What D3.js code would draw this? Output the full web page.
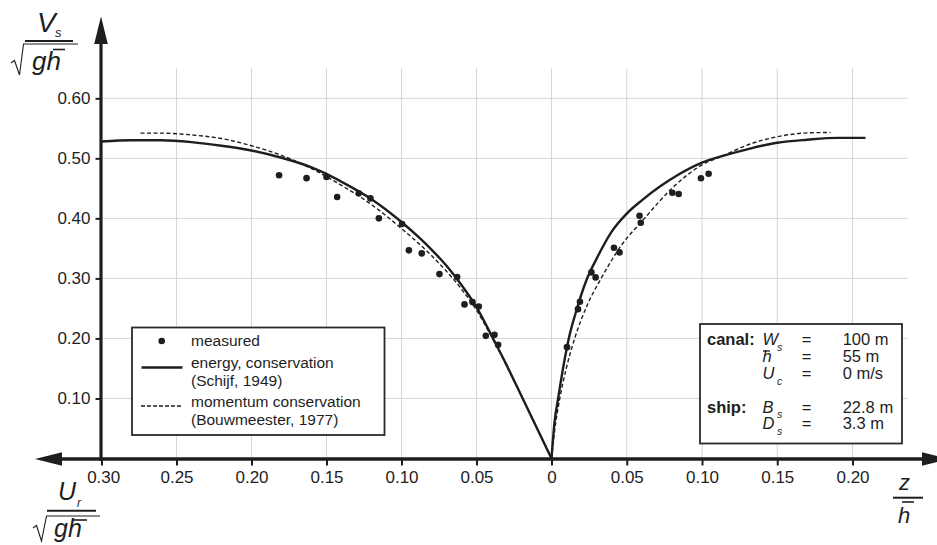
<!DOCTYPE html>
<html>
<head>
<meta charset="utf-8">
<script src="https://cdn.jsdelivr.net/npm/d3@7"></script>
<style>
  html, body { margin: 0; padding: 0; background: #fff; }
  svg { display: block; font-family: "Liberation Sans", Arial, Helvetica, sans-serif; }
</style>
</head>
<body>
<svg id="chart" width="937" height="545"></svg>
<script>
// ---------------- data ----------------
// left half: U_r / sqrt(g h)  (plotted to the left of 0), right half: z / h
const xTickValues = [-0.30, -0.25, -0.20, -0.15, -0.10, -0.05, 0, 0.05, 0.10, 0.15, 0.20];
const yTickValues = [0.10, 0.20, 0.30, 0.40, 0.50, 0.60];

// measured, left (Ur/sqrt(gh), Vs/sqrt(gh))
const measuredLeftUr = [0.1816, 0.1633, 0.150, 0.1429, 0.1285, 0.1207, 0.1151, 0.0996, 0.0951, 0.0865, 0.0747, 0.0629, 0.0580, 0.0527, 0.0485, 0.0438, 0.0380, 0.0356];
const measuredLeftV  = [0.4717, 0.467, 0.469, 0.4355, 0.4417, 0.4333, 0.400, 0.3905, 0.3467, 0.3417, 0.3072, 0.3022, 0.2567, 0.2605, 0.2533, 0.2043, 0.206, 0.1893];
// measured, right (z/h, Vs/sqrt(gh))
const measuredRightZ = [0.0103, 0.0176, 0.0189, 0.0265, 0.0293, 0.0415, 0.0452, 0.0585, 0.0593, 0.0803, 0.0845, 0.0993, 0.1044];
const measuredRightV = [0.1855, 0.2488, 0.261, 0.310, 0.3017, 0.351, 0.3433, 0.4043, 0.3927, 0.4427, 0.4405, 0.4667, 0.4743];

// energy conservation (Schijf, 1949)
const energyLeftUr = [0, 0.01, 0.02, 0.03, 0.04, 0.05, 0.06, 0.07, 0.08, 0.0878, 0.10, 0.12, 0.14, 0.15, 0.16, 0.18, 0.20, 0.22, 0.24, 0.26, 0.28, 0.30];
const energyLeftV  = [0, 0.052, 0.104, 0.156, 0.205, 0.252, 0.289, 0.321, 0.348, 0.367, 0.394, 0.432, 0.461, 0.474, 0.485, 0.501, 0.513, 0.521, 0.527, 0.530, 0.530, 0.528];
const energyRightZ = [0, 0.002, 0.0044, 0.008, 0.0115, 0.016, 0.0232, 0.03, 0.04, 0.05, 0.06, 0.072, 0.085, 0.10, 0.115, 0.13, 0.15, 0.17, 0.19, 0.2086];
const energyRightV = [0, 0.06, 0.10, 0.155, 0.20, 0.242, 0.297, 0.333, 0.378, 0.408, 0.430, 0.453, 0.474, 0.493, 0.505, 0.515, 0.526, 0.531, 0.534, 0.534];

// momentum conservation (Bouwmeester, 1977)
const momentumLeftUr = [0, 0.01, 0.02, 0.03, 0.04, 0.05, 0.06, 0.08, 0.10, 0.12, 0.14, 0.16, 0.18, 0.20, 0.22, 0.24, 0.26, 0.274];
const momentumLeftV  = [0, 0.052, 0.104, 0.155, 0.203, 0.247, 0.282, 0.338, 0.383, 0.423, 0.455, 0.483, 0.505, 0.521, 0.533, 0.539, 0.542, 0.542];
const momentumRightZ = [0, 0.002, 0.0055, 0.010, 0.0154, 0.024, 0.033, 0.045, 0.0618, 0.080, 0.100, 0.1137, 0.13, 0.15, 0.1733, 0.1854];
const momentumRightV = [0, 0.045, 0.10, 0.152, 0.20, 0.257, 0.300, 0.350, 0.400, 0.450, 0.489, 0.504, 0.522, 0.536, 0.5427, 0.543];

// legend text
const legendLeftItems = ["measured", ["energy, conservation", "(Schijf, 1949)"], ["momentum conservation", "(Bouwmeester, 1977)"]];
const canalSymbols = [["W", "s"], ["h", ""], ["U", "c"]];
const canalValues = ["100 m", "55 m", "0 m/s"];
const shipSymbols = [["B", "s"], ["D", "s"]];
const shipValues = ["22.8 m", "3.3 m"];

// ---------------- drawing ----------------
const svg = d3.select("#chart");
const ink = "#1e1e1e";
const gridCol = "#d6d6d6";

const x = d3.scaleLinear().domain([-0.30, 0, 0.20]).range([101.5, 551.5, 852.5]);
const y = d3.scaleLinear().domain([0, 0.60]).range([458.5, 98.3]);

// grid
const grid = svg.append("g");
grid.selectAll("line.v").data(xTickValues).join("line")
  .attr("x1", d => x(d)).attr("x2", d => x(d))
  .attr("y1", y(0.65)).attr("y2", y(0))
  .attr("stroke", gridCol).attr("stroke-width", 1);
grid.selectAll("line.h").data(yTickValues).join("line")
  .attr("x1", x(-0.30)).attr("x2", 908)
  .attr("y1", d => y(d)).attr("y2", d => y(d))
  .attr("stroke", gridCol).attr("stroke-width", 1);

// axes (ticks + labels)
const fmtX = d => d === 0 ? "0" : d3.format(".2f")(Math.abs(d));
const xAxis = svg.append("g").attr("transform", `translate(0,${y(0)})`)
  .call(d3.axisBottom(x).tickValues(xTickValues).tickFormat(fmtX).tickSize(7).tickPadding(5));
const yAxis = svg.append("g").attr("transform", `translate(${x(-0.30)},0)`)
  .call(d3.axisLeft(y).tickValues(yTickValues).tickFormat(d3.format(".2f")).tickSize(6).tickPadding(5));
[xAxis, yAxis].forEach(g => {
  g.select(".domain").remove();
  g.selectAll(".tick line").attr("stroke", ink).attr("stroke-width", 2);
  g.selectAll(".tick text").attr("fill", ink).style("font-size", "17px")
    .style("font-family", "'Liberation Sans', Arial, sans-serif");
});
xAxis.selectAll(".tick").filter(d => d === -0.30).select("text").attr("dx", "0.1em");

// curves
const lineGen = d3.line().x(d => x(d[0])).y(d => y(d[1])).curve(d3.curveMonotoneX);
const leftPts = (us, vs) => us.map((u, i) => [-u, vs[i]]).sort((a, b) => a[0] - b[0]);
const rightPts = (zs, vs) => zs.map((z, i) => [z, vs[i]]);

const curves = svg.append("g").attr("fill", "none").attr("stroke", ink);
curves.append("path").attr("d", lineGen(leftPts(energyLeftUr, energyLeftV))).attr("stroke-width", 2.4);
curves.append("path").attr("d", lineGen(rightPts(energyRightZ, energyRightV))).attr("stroke-width", 2.4);
curves.append("path").attr("d", lineGen(leftPts(momentumLeftUr, momentumLeftV))).attr("stroke-width", 1.4).attr("stroke-dasharray", "4,2.5");
curves.append("path").attr("d", lineGen(rightPts(momentumRightZ, momentumRightV))).attr("stroke-width", 1.4).attr("stroke-dasharray", "4,2.5");

// measured points
const pts = svg.append("g").attr("fill", ink);
pts.selectAll("circle.l").data(measuredLeftUr.map((u, i) => [-u, measuredLeftV[i]])).join("circle")
  .attr("cx", d => x(d[0])).attr("cy", d => y(d[1])).attr("r", 3.3);
pts.selectAll("circle.r").data(measuredRightZ.map((z, i) => [z, measuredRightV[i]])).join("circle")
  .attr("cx", d => x(d[0])).attr("cy", d => y(d[1])).attr("r", 3.3);

// axis lines with arrows
const axes = svg.append("g");
axes.append("line").attr("x1", 58).attr("x2", 925).attr("y1", 459).attr("y2", 459)
  .attr("stroke", ink).attr("stroke-width", 3.6);
axes.append("line").attr("x1", 101).attr("x2", 101).attr("y1", 461).attr("y2", 40)
  .attr("stroke", ink).attr("stroke-width", 3.2);
axes.append("path").attr("d", "M35,459 L62,452.3 L62,465.7 Z").attr("fill", ink);
axes.append("path").attr("d", "M949,459 L922,452.3 L922,465.7 Z").attr("fill", ink);
axes.append("path").attr("d", "M101,16.5 L94.2,44 L107.8,44 Z").attr("fill", ink);

// axis titles
const t = svg.append("g").attr("fill", ink).style("font-style", "italic");
// Vs / sqrt(g h)
t.append("text").attr("x", 37).attr("y", 32).style("font-size", "28px").text("V");
t.append("text").attr("x", 55).attr("y", 37).style("font-size", "13px").text("s");
svg.append("line").attr("x1", 25).attr("x2", 73).attr("y1", 41).attr("y2", 41).attr("stroke", ink).attr("stroke-width", 2);
svg.append("path").attr("d", "M11,63 L14.5,60.5 L19.5,75 L23.5,44 L78,44").attr("fill", "none").attr("stroke", ink).attr("stroke-width", 1.1);
t.append("text").attr("x", 32).attr("y", 70).style("font-size", "26px").text("gh");
svg.append("line").attr("x1", 53).attr("x2", 65).attr("y1", 49.5).attr("y2", 49.5).attr("stroke", ink).attr("stroke-width", 1.6);

// Ur / sqrt(g h)
t.append("text").attr("x", 58).attr("y", 500).style("font-size", "25px").text("U");
t.append("text").attr("x", 77).attr("y", 507).style("font-size", "12px").text("r");
svg.append("line").attr("x1", 47).attr("x2", 96).attr("y1", 510.7).attr("y2", 510.7).attr("stroke", ink).attr("stroke-width", 2);
svg.append("path").attr("d", "M33,528 L36.5,525.5 L41.5,541 L46.5,516 L100,516").attr("fill", "none").attr("stroke", ink).attr("stroke-width", 1.1);
t.append("text").attr("x", 54).attr("y", 537).style("font-size", "25px").text("gh");
svg.append("line").attr("x1", 73).attr("x2", 87).attr("y1", 520).attr("y2", 520).attr("stroke", ink).attr("stroke-width", 1.6);

// z / h
t.append("text").attr("x", 899).attr("y", 490).style("font-size", "22px").text("z");
svg.append("line").attr("x1", 893).attr("x2", 923).attr("y1", 497.7).attr("y2", 497.7).attr("stroke", ink).attr("stroke-width", 2);
t.append("text").attr("x", 898).attr("y", 523).style("font-size", "22px").text("h");
svg.append("line").attr("x1", 902).attr("x2", 914).attr("y1", 502).attr("y2", 502).attr("stroke", ink).attr("stroke-width", 1.6);

// ---------------- left legend ----------------
const lg = svg.append("g").attr("fill", ink).style("font-size", "15.5px");
lg.append("rect").attr("x", 132).attr("y", 327.5).attr("width", 252.5).attr("height", 107.5)
  .attr("fill", "#fff").attr("stroke", "#2a2a2a").attr("stroke-width", 1.8);
lg.append("circle").attr("cx", 161.7).attr("cy", 341).attr("r", 3.3);
lg.append("text").attr("x", 191).attr("y", 345.5).text(legendLeftItems[0]);
lg.append("line").attr("x1", 141.5).attr("x2", 182.5).attr("y1", 367.5).attr("y2", 367.5)
  .attr("stroke", ink).attr("stroke-width", 2.4);
lg.append("text").attr("x", 191).attr("y", 368).text(legendLeftItems[1][0]);
lg.append("text").attr("x", 191).attr("y", 385.5).text(legendLeftItems[1][1]);
lg.append("line").attr("x1", 141).attr("x2", 183).attr("y1", 406).attr("y2", 406)
  .attr("stroke", ink).attr("stroke-width", 1.4).attr("stroke-dasharray", "4,2");
lg.append("text").attr("x", 191).attr("y", 407).text(legendLeftItems[2][0]);
lg.append("text").attr("x", 191).attr("y", 424.5).text(legendLeftItems[2][1]);

// ---------------- right legend ----------------
const rg = svg.append("g").attr("fill", ink).style("font-size", "16.5px");
rg.append("rect").attr("x", 700).attr("y", 324).attr("width", 202).attr("height", 119.5)
  .attr("fill", "#fff").attr("stroke", "#2a2a2a").attr("stroke-width", 1.8);
const rowsCanal = [345, 362, 379];
const rowsShip = [412.7, 429];
rg.append("text").attr("x", 707).attr("y", rowsCanal[0]).style("font-weight", "bold").text("canal:");
rg.append("text").attr("x", 707).attr("y", rowsShip[0]).style("font-weight", "bold").text("ship:");
function symRow(sym, val, yy) {
  rg.append("text").attr("x", 762.5).attr("y", yy).style("font-style", "italic").text(sym[0]);
  if (sym[1]) rg.append("text").attr("x", 777).attr("y", yy + 5.5).style("font-style", "italic").style("font-size", "10.5px").text(sym[1]);
  rg.append("text").attr("x", 806.5).attr("y", yy).attr("text-anchor", "middle").text("=");
  rg.append("text").attr("x", 842.7).attr("y", yy).text(val);
}
canalSymbols.forEach((s, i) => symRow(s, canalValues[i], rowsCanal[i]));
shipSymbols.forEach((s, i) => symRow(s, shipValues[i], rowsShip[i]));
// bar over h in the legend
rg.append("line").attr("x1", 763).attr("x2", 770).attr("y1", 351).attr("y2", 351).attr("stroke", ink).attr("stroke-width", 1.3);
</script>
</body>
</html>
